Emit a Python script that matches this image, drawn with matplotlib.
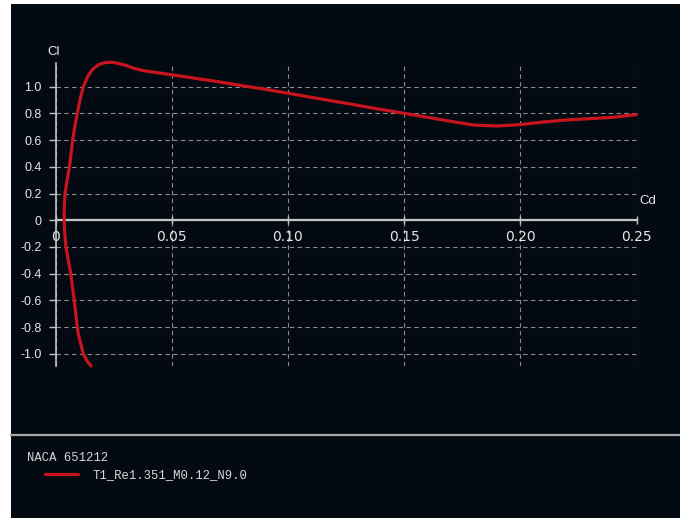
import matplotlib
matplotlib.use("Agg")
import matplotlib.pyplot as plt
from matplotlib.patches import Rectangle
from matplotlib.ticker import FixedLocator, FixedFormatter

# Polar data: drag coefficient vs lift coefficient
cd = [0.0153, 0.0135, 0.0120, 0.0108, 0.0098, 0.0094, 0.0087, 0.0081, 0.0073,
      0.0066, 0.0055, 0.0045, 0.0040, 0.0037, 0.0038, 0.0041, 0.0050, 0.0060,
      0.0067, 0.0074, 0.0083, 0.0094, 0.0105, 0.0120, 0.0140, 0.0160, 0.0185,
      0.0210, 0.0235, 0.0260, 0.0300, 0.0340, 0.0380, 0.0440, 0.0500, 0.0600,
      0.0700, 0.0800, 0.0900, 0.1000, 0.1125, 0.1250, 0.1375, 0.1500, 0.1600,
      0.1700, 0.1800, 0.1900, 0.2000, 0.2100, 0.2200, 0.2300, 0.2400, 0.2500]
cl = [-1.09, -1.05, -1.00, -0.92, -0.85, -0.80, -0.70, -0.60, -0.50,
      -0.40, -0.30, -0.20, -0.10, 0.00, 0.10, 0.20, 0.30, 0.40,
      0.50, 0.60, 0.70, 0.80, 0.90, 1.00, 1.08, 1.13, 1.163,
      1.178, 1.182, 1.177, 1.16, 1.135, 1.118, 1.103, 1.088, 1.062,
      1.036, 1.007, 0.98, 0.95, 0.912, 0.875, 0.836, 0.80, 0.77,
      0.74, 0.712, 0.705, 0.715, 0.735, 0.75, 0.76, 0.77, 0.79]

x_ticks = [0, 0.05, 0.10, 0.15, 0.20, 0.25]
x_tick_labels = ["0", "0.05", "0.10", "0.15", "0.20", "0.25"]
y_ticks = [-1.0, -0.8, -0.6, -0.4, -0.2, 0, 0.2, 0.4, 0.6, 0.8, 1.0]
y_tick_labels = ["-1.0", "-0.8", "-0.6", "-0.4", "-0.2", "0",
                 "0.2", "0.4", "0.6", "0.8", "1.0"]

airfoil_name = "NACA 651212"
series_name = "T1_Re1.351_M0.12_N9.0"

BG = "#040a12"
CURVE = "#c8141e"
AXIS = "#c4c4c4"
GRID = "#8c8c8c"
TEXT = "#e6e6e6"

W, H = 680, 518
fig = plt.figure(figsize=(W / 100, H / 100), dpi=100, facecolor="white")


def fx(px):
    return px / W


def fy(py):
    return 1 - py / H


# dark panel
fig.add_artist(Rectangle((fx(11), 0), 1 - fx(11), fy(4), transform=fig.transFigure,
                         facecolor=BG, edgecolor="none", zorder=0))

# plot area
left, right, top, bottom = 55.5, 636.5, 63, 366
ax = fig.add_axes([fx(left), fy(bottom), fx(right) - fx(left), fy(top) - fy(bottom)])
ax.set_facecolor("none")
ax.set_xlim(0, 0.25)
ax.set_ylim(-1.09, 1.176)

tick_font = dict(family="Liberation Sans", size=9)

ax.xaxis.set_major_locator(FixedLocator(x_ticks))
ax.xaxis.set_major_formatter(FixedFormatter(x_tick_labels))
ax.yaxis.set_major_locator(FixedLocator(y_ticks))
ax.yaxis.set_major_formatter(FixedFormatter(y_tick_labels))
for lab in ax.get_xticklabels() + ax.get_yticklabels():
    lab.set_fontfamily(tick_font["family"])
    lab.set_fontsize(tick_font["size"])

ax.grid(True, color=GRID, linestyle=(0, (4, 3)), linewidth=0.8)
ax.set_axisbelow(True)

for s in ("top", "right"):
    ax.spines[s].set_visible(False)
ax.spines["bottom"].set_position(("data", 0))
ax.spines["bottom"].set_color(AXIS)
ax.spines["bottom"].set_linewidth(1.6)
ax.spines["left"].set_color(AXIS)
ax.spines["left"].set_linewidth(1.2)
ax.spines["bottom"].set_zorder(1.5)
ax.spines["left"].set_zorder(1.5)

ax.tick_params(axis="y", direction="out", length=5, width=1, color=AXIS,
               labelcolor=TEXT, pad=5)
ax.tick_params(axis="x", direction="inout", length=6, width=1, color=AXIS,
               labelcolor=TEXT, pad=4)

ax.plot(cd, cl, color=CURVE, linewidth=2.3, solid_capstyle="round",
        solid_joinstyle="round", zorder=3, label=series_name, clip_on=False)

# axis names
fig.text(fx(54), fy(52), "Cl", color=TEXT, fontsize=9.5, family="Liberation Sans",
         ha="center", va="center")
fig.text(fx(648), fy(201), "Cd", color=TEXT, fontsize=9.5, family="Liberation Sans",
         ha="center", va="center")

# legend panel
fig.add_artist(plt.Line2D([fx(11), 1], [fy(435), fy(435)], transform=fig.transFigure,
                          color="#a8a8a8", linewidth=1.6))
mono = dict(family="Liberation Mono", size=8.8)
fig.text(fx(27), fy(458), airfoil_name, color="#d6d6d6", fontfamily=mono["family"],
         fontsize=mono["size"], ha="left", va="center")
leg = ax.legend(loc="center left", bbox_to_anchor=(fx(45), fy(475)),
                bbox_transform=fig.transFigure, frameon=False,
                prop=mono, borderpad=0, borderaxespad=0,
                handlelength=2.7, handletextpad=1.2)
for t in leg.get_texts():
    t.set_color("#d6d6d6")

fig.savefig("out.png", dpi=100, facecolor="white")
